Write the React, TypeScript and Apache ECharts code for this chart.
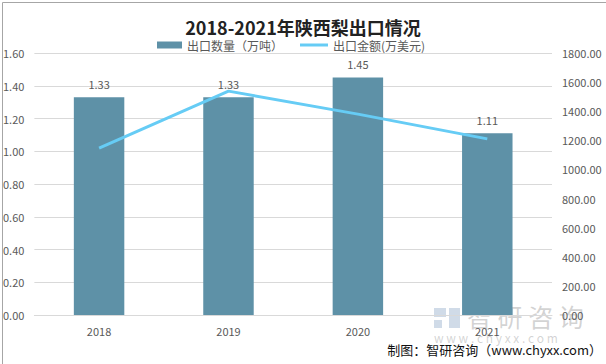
import React, { useEffect, useRef } from "react";
import * as echarts from "echarts";

const categories = ["2018", "2019", "2020", "2021"];
const volume = [1.33, 1.33, 1.45, 1.11];
const amount = [1147, 1538, 1380, 1210];
const leftTicks = [0, 0.2, 0.4, 0.6, 0.8, 1.0, 1.2, 1.4, 1.6];
const rightTicks = [0, 200, 400, 600, 800, 1000, 1200, 1400, 1600, 1800];

export default function App() {
  const ref = useRef<HTMLDivElement>(null);
  useEffect(() => {
    document.body.style.margin = "0";
    const chart = echarts.init(ref.current!, null, { renderer: "svg" });
    const font = "'Noto Sans CJK SC', 'Noto Sans', sans-serif";
    const wm = "rgba(140,140,140,0.38)";
    const legendText = { fontSize: 12, color: "#595959", fontFamily: font };
    chart.setOption({
      animation: false,
      textStyle: { fontFamily: font },
      title: {
        text: "2018-2021年陕西梨出口情况",
        left: "center",
        top: 13,
        textStyle: { fontSize: 18, fontWeight: "bold", color: "#222", fontFamily: font },
      },
      legend: [
        {
          left: 152,
          top: 34,
          itemWidth: 25,
          itemHeight: 7,
          itemGap: 4,
          textStyle: legendText,
          data: [{ name: "出口数量（万吨）", icon: "rect" }],
        },
        {
          left: 295,
          top: 34,
          itemWidth: 28,
          itemHeight: 3,
          textStyle: legendText,
          data: [{ name: "出口金额(万美元)", icon: "rect" }],
        },
      ],
      grid: { left: 34, right: 54, top: 53, bottom: 49 },
      xAxis: {
        type: "category",
        data: categories,
        axisTick: { show: false },
        axisLine: { lineStyle: { color: "#D9D9D9" } },
        axisLabel: { color: "#595959", fontSize: 11, margin: 10 },
      },
      yAxis: [
        {
          type: "value",
          min: leftTicks[0],
          max: leftTicks[leftTicks.length - 1],
          interval: 0.2,
          axisLine: { show: false },
          axisTick: { show: false },
          splitLine: { lineStyle: { color: "#D9D9D9" } },
          axisLabel: { color: "#595959", fontSize: 11, margin: 10, formatter: (v: number) => v.toFixed(2) },
        },
        {
          type: "value",
          min: rightTicks[0],
          max: rightTicks[rightTicks.length - 1],
          interval: 200,
          axisLine: { show: false },
          axisTick: { show: false },
          splitLine: { show: false },
          axisLabel: { color: "#595959", fontSize: 11, margin: 10, formatter: (v: number) => v.toFixed(2) },
        },
      ],
      series: [
        {
          name: "出口数量（万吨）",
          type: "bar",
          data: volume,
          barWidth: "39%",
          itemStyle: { color: "#5E91A7" },
          label: {
            show: true,
            position: "top",
            color: "#595959",
            fontSize: 11,
            distance: 8,
            formatter: (p: any) => p.value.toFixed(2),
          },
        },
        {
          name: "出口金额(万美元)",
          type: "line",
          yAxisIndex: 1,
          data: amount,
          symbol: "none",
          lineStyle: { color: "#66CCF5", width: 3 },
          itemStyle: { color: "#66CCF5" },
        },
      ],
      graphic: [
        {
          type: "rect",
          left: 0,
          top: 0,
          shape: { width: 605, height: 363 },
          style: { fill: "none", stroke: "#A6A6A6", lineWidth: 1 },
          silent: true,
        },
        {
          type: "rect",
          left: 434,
          top: 308,
          shape: { width: 12, height: 9 },
          style: { fill: "rgba(150,175,205,0.45)" },
          silent: true,
        },
        {
          type: "rect",
          left: 434,
          top: 320,
          shape: { width: 8, height: 8 },
          style: { fill: "rgba(150,175,205,0.45)" },
          silent: true,
        },
        {
          type: "rect",
          left: 449,
          top: 308,
          shape: { width: 11, height: 20 },
          style: { fill: "rgba(150,175,205,0.45)" },
          silent: true,
        },
        {
          type: "text",
          left: 467,
          top: 303,
          style: { text: "智 研 咨 询", fontSize: 25, fill: wm, fontFamily: font },
          silent: true,
        },
        {
          type: "text",
          left: 434,
          top: 331,
          style: { text: "w w w . c h y x x . c o m", fontSize: 12, fill: wm, fontFamily: font },
          silent: true,
        },
        {
          type: "text",
          right: 4,
          top: 343,
          style: { text: "制图：智研咨询（www.chyxx.com）", fontSize: 13, fill: "#111", fontFamily: font },
          silent: true,
        },
      ],
    });
    return () => chart.dispose();
  }, []);
  return <div ref={ref} style={{ width: 606, height: 364 }} />;
}
